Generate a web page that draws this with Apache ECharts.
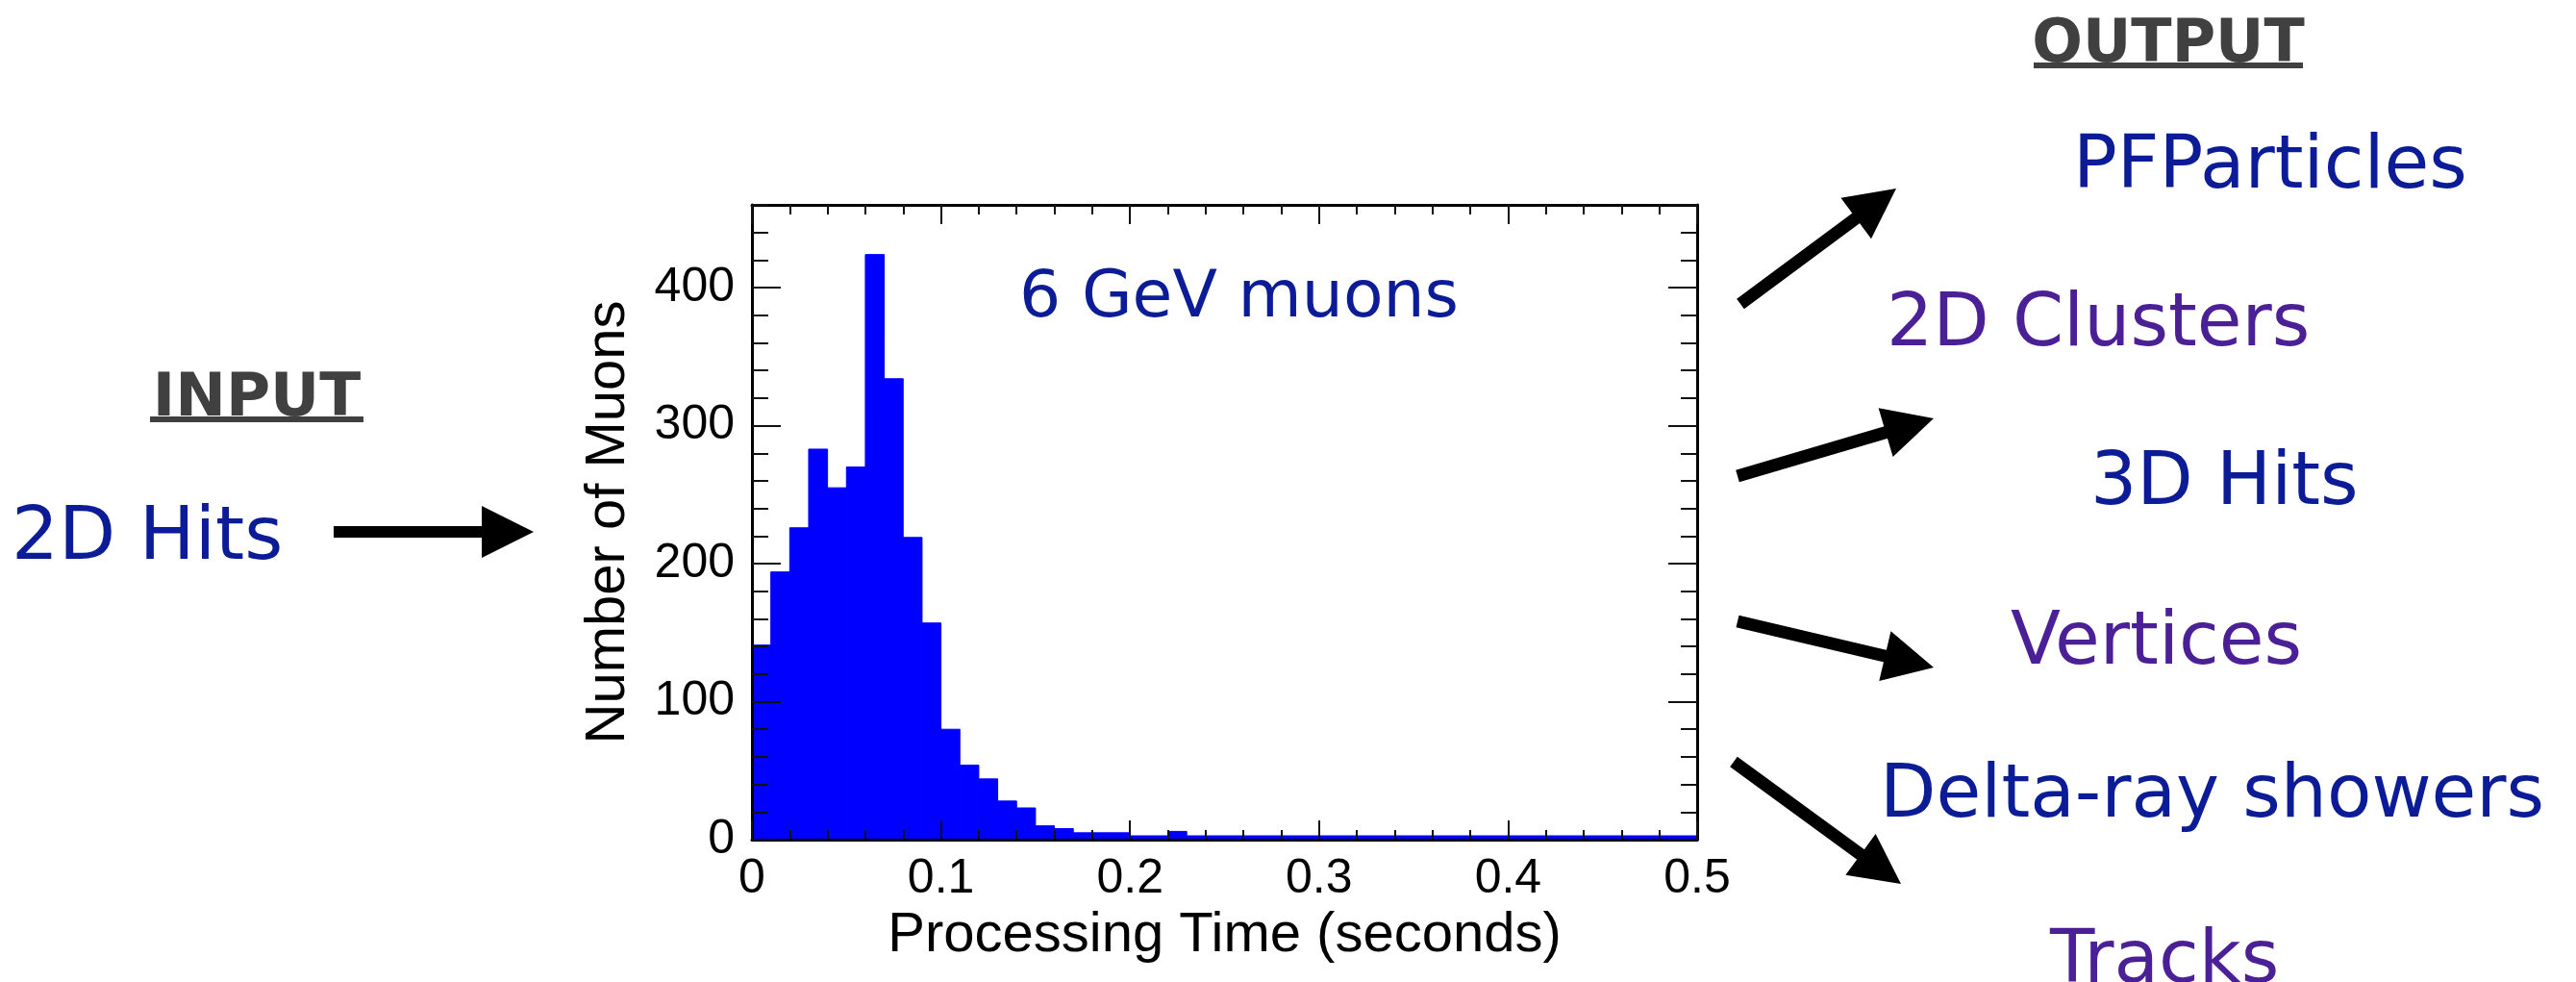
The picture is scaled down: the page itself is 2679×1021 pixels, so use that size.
<!DOCTYPE html>
<html>
<head>
<meta charset="utf-8">
<script src="https://cdn.jsdelivr.net/npm/echarts@6/dist/echarts.min.js"></script>
<style>
html,body{margin:0;padding:0;background:#ffffff;}
#chart{width:2679px;height:1021px;}
</style>
</head>
<body>
<div id="chart"></div>
<script>
// ---------------- data ----------------
const binEdges = [0, 0.01, 0.02, 0.03, 0.04, 0.05, 0.06, 0.07, 0.08, 0.09,
  0.10, 0.11, 0.12, 0.13, 0.14, 0.15, 0.16, 0.17, 0.18, 0.19,
  0.20, 0.21, 0.22, 0.23, 0.24, 0.25, 0.26, 0.27, 0.28, 0.29,
  0.30, 0.31, 0.32, 0.33, 0.34, 0.35, 0.36, 0.37, 0.38, 0.39,
  0.40, 0.41, 0.42, 0.43, 0.44, 0.45, 0.46, 0.47, 0.48, 0.49, 0.50];
const muonCounts = [141, 194, 226, 283, 255, 270, 424, 334, 219, 157,
  80, 54, 44, 28, 23, 10, 8, 5, 5, 5,
  2, 2, 6, 1, 0, 2, 0, 0, 0, 0,
  0, 0, 0, 0, 0, 0, 1, 0, 0, 0,
  0, 0, 0, 0, 0, 0, 0, 0, 0, 0];
const xTickLabels = ['0', '0.1', '0.2', '0.3', '0.4', '0.5'];
const yTickLabels = ['0', '100', '200', '300', '400'];
const xAxisTitle = 'Processing Time (seconds)';
const yAxisTitle = 'Number of Muons';
const plotNote = '6 GeV muons';
const inputTitle = 'INPUT';
const inputItems = ['2D Hits'];
const outputTitle = 'OUTPUT';
const outputItems = ['PFParticles', '2D Clusters', '3D Hits', 'Vertices', 'Delta-ray showers', 'Tracks'];

// ---------------- build ----------------
const histData = muonCounts.map((c, i) => [binEdges[i], binEdges[i + 1], c]);

const BLUE = '#0b1c96';
const PURPLE = '#4b1f96';
const GREY = '#404040';
const ROOT_FONT = '"Liberation Sans", Arial, Helvetica, sans-serif';
const SANS = '"DejaVu Sans", Verdana, sans-serif';

const tickStyle = {color: '#111', width: 2};
const frameLine = {show: true, onZero: false, lineStyle: {color: '#000', width: 3}};

function xLabel(v) {
  const i = Math.round(v / 0.1);
  return xTickLabels[i] !== undefined ? xTickLabels[i] : '';
}
function yLabel(v) {
  const i = Math.round(v / 100);
  return (Math.abs(v - i * 100) < 1e-6 && yTickLabels[i] !== undefined) ? yTickLabels[i] : '';
}

const xBase = {type: 'value', min: 0, max: 0.5, interval: 0.1, z: 5,
  splitLine: {show: false}, minorSplitLine: {show: false},
  axisTick: {show: true, inside: true, length: 20, lineStyle: tickStyle},
  minorTick: {show: true, splitNumber: 5, length: 10, lineStyle: tickStyle}};
const yMajor = {type: 'value', min: 0, max: 460, interval: 100, z: 5,
  splitLine: {show: false},
  axisTick: {show: true, inside: true, length: 30, lineStyle: tickStyle}};
const yMinor = {type: 'value', min: 0, max: 460, interval: 20, z: 5,
  splitLine: {show: false}, axisLine: {show: false, onZero: false},
  axisLabel: {show: false},
  axisTick: {show: true, inside: true, length: 17, lineStyle: tickStyle}};

function arrow(x1, y1, x2, y2, w, hl, hw) {
  const dx = x2 - x1, dy = y2 - y1, L = Math.hypot(dx, dy);
  const ux = dx / L, uy = dy / L, px = -uy, py = ux;
  const bx = x2 - ux * hl, by = y2 - uy * hl;
  return [
    {type: 'line', z: 10, shape: {x1: x1, y1: y1, x2: bx + ux * 4, y2: by + uy * 4},
      style: {stroke: '#000', lineWidth: w, lineCap: 'butt'}},
    {type: 'polygon', z: 10, shape: {points: [[x2, y2], [bx + px * hw / 2, by + py * hw / 2], [bx - px * hw / 2, by - py * hw / 2]]},
      style: {fill: '#000'}}
  ];
}
function txt(t, x, baseline, size, color, align, bold) {
  return {type: 'text', z: 10, x: x, y: baseline - 0.25 * size,
    style: {text: t, fill: color, font: (bold ? 'bold ' : '') + size + 'px ' + SANS,
      align: align, verticalAlign: 'middle', textAlign: align, textVerticalAlign: 'middle'}};
}

const graphics = [].concat(
  [txt(inputTitle, 267, 431, 63, GREY, 'center', true),
   {type: 'rect', z: 10, shape: {x: 156, y: 433, width: 222, height: 6}, style: {fill: GREY}},
   txt(inputItems[0], 12, 580, 77, BLUE, 'left', false),
   txt(outputTitle, 2255, 63, 62, GREY, 'center', true),
   {type: 'rect', z: 10, shape: {x: 2115, y: 65, width: 280, height: 6}, style: {fill: GREY}},
   txt(outputItems[0], 2156, 194, 76, BLUE, 'left', false),
   txt(outputItems[1], 1962, 358, 76, PURPLE, 'left', false),
   txt(outputItems[2], 2174, 523, 76, BLUE, 'left', false),
   txt(outputItems[3], 2091, 689, 76, PURPLE, 'left', false),
   txt(outputItems[4], 1955, 848, 76, BLUE, 'left', false),
   txt(outputItems[5], 2132, 1020, 76, PURPLE, 'left', false),
   txt(plotNote, 1060, 328, 68, BLUE, 'left', false)],
  arrow(347, 553, 555, 553, 12, 54, 54),
  arrow(1810, 316, 1972, 196, 13, 52, 53),
  arrow(1807, 495, 2011, 435, 13, 52, 53),
  arrow(1807, 646, 2011, 694, 13, 52, 53),
  arrow(1803, 792, 1977, 919, 13, 52, 53)
);

const chart = echarts.init(document.getElementById('chart'), null, {renderer: 'canvas'});
chart.setOption({
  animation: false,
  backgroundColor: '#ffffff',
  grid: {left: 782, top: 213, width: 983, height: 660, containLabel: false},
  xAxis: [
    Object.assign({}, xBase, {position: 'bottom', axisLine: frameLine,
      axisLabel: {show: true, fontFamily: ROOT_FONT, fontSize: 50, color: '#000', margin: 16, formatter: xLabel},
      name: xAxisTitle, nameLocation: 'middle', nameGap: 68,
      nameTextStyle: {fontFamily: ROOT_FONT, fontSize: 58, color: '#000'}}),
    Object.assign({}, xBase, {position: 'top', axisLine: frameLine, axisLabel: {show: false}})
  ],
  yAxis: [
    Object.assign({}, yMajor, {position: 'left', axisLine: frameLine,
      axisLabel: {show: true, fontFamily: ROOT_FONT, fontSize: 50, color: '#000', margin: 18,
        formatter: yLabel, showMaxLabel: false},
      name: yAxisTitle, nameLocation: 'middle', nameGap: 120, nameRotate: 90,
      nameTextStyle: {fontFamily: ROOT_FONT, fontSize: 58, color: '#000'}}),
    Object.assign({}, yMajor, {position: 'right', axisLine: frameLine, axisLabel: {show: false}}),
    Object.assign({}, yMinor, {position: 'left'}),
    Object.assign({}, yMinor, {position: 'right'})
  ],
  series: [{
    type: 'custom', xAxisIndex: 0, yAxisIndex: 0, z: 2, clip: true,
    data: histData,
    renderItem: function (params, api) {
      const x0 = api.value(0), x1 = api.value(1), c = api.value(2);
      const pTop = api.coord([x0, c]);
      const pBase = api.coord([x1, 0]);
      let h = pBase[1] - pTop[1];
      if (h < 4) h = 4;
      return {type: 'rect',
        shape: {x: pTop[0], y: pBase[1] - h, width: pBase[0] - pTop[0], height: h},
        style: {fill: '#0000ff', stroke: '#0000ff', lineWidth: 1}};
    }
  }],
  graphic: graphics
});
</script>
</body>
</html>
